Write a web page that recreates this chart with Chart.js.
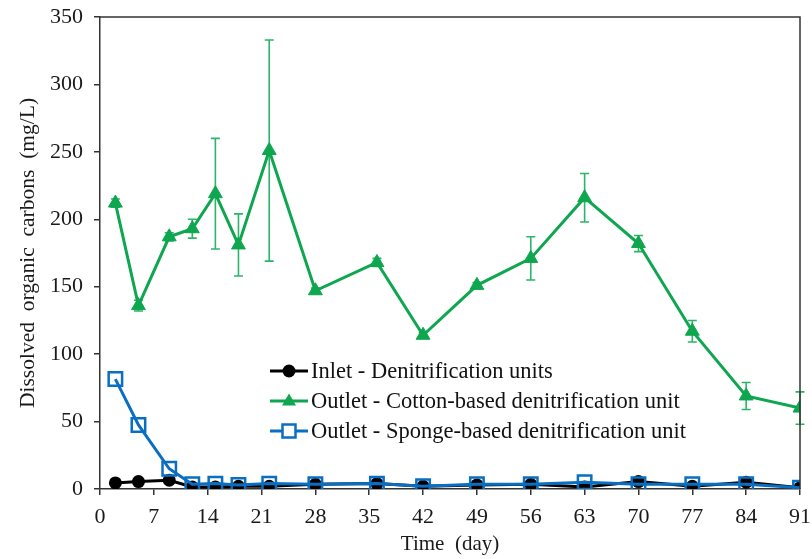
<!DOCTYPE html>
<html>
<head>
<meta charset="utf-8">
<title>Dissolved organic carbons</title>
<script src="https://cdn.jsdelivr.net/npm/chart.js@4.4.0/dist/chart.umd.min.js"></script>
<style>
  html, body { margin: 0; padding: 0; background: #fff; }
  #wrap { width: 812px; height: 559px; }
</style>
</head>
<body>
<div id="wrap"><canvas id="docChart" width="812" height="559"></canvas></div>
<script>
// Sampling days and DOC values (mg/L)
const days = [2, 5, 9, 12, 15, 18, 22, 28, 36, 42, 49, 56, 63, 70, 77, 84, 91];
const inletDoc = [4.5, 5.5, 6.5, 1.5, 1.5, 2, 2, 3.5, 4, 2, 3, 3.5, 1.5, 5.5, 2, 5, 1];
const cottonDoc = [212, 136, 187, 193, 219, 181, 251, 147, 168, 114, 151, 171, 216, 182, 117, 69, 60];
const cottonErr = [3, 4, 3, 7, 41, 23, 82, 2, 3, 2, 2, 16, 18, 6, 8, 10, 12];
const spongeDoc = [81.5, 47.5, 15, 3.5, 4, 3, 4, 3.5, 4, 2, 3.5, 3.5, 5, 3.5, 3.5, 3.5, 1];
const xTicks = [0, 7, 14, 21, 28, 35, 42, 49, 56, 63, 70, 77, 84, 91];
const yTicks = [0, 50, 100, 150, 200, 250, 300, 350];

const seriesNames = [
  'Inlet - Denitrification units',
  'Outlet - Cotton-based denitrification unit',
  'Outlet - Sponge-based denitrification unit'
];

const FONT = "'Liberation Serif', 'DejaVu Serif', serif";
const GREEN = '#0ea64e';
const GREEN_BAR = '#2bb56a';
const BLUE = '#0a6fc2';
const AXIS = '#333';

const toPoints = vals => days.map((d, i) => ({ x: d, y: vals[i] }));

// Error bars for the cotton unit
const errorBars = {
  id: 'errorBars',
  beforeDatasetsDraw(chart) {
    const { ctx, scales: { x, y } } = chart;
    ctx.save();
    ctx.strokeStyle = GREEN_BAR;
    ctx.lineWidth = 1.6;
    days.forEach((d, i) => {
      const px = x.getPixelForValue(d);
      const top = y.getPixelForValue(cottonDoc[i] + cottonErr[i]);
      const bot = y.getPixelForValue(cottonDoc[i] - cottonErr[i]);
      ctx.beginPath();
      ctx.moveTo(px, top); ctx.lineTo(px, bot);
      ctx.moveTo(px - 4.5, top); ctx.lineTo(px + 4.5, top);
      ctx.moveTo(px - 4.5, bot); ctx.lineTo(px + 4.5, bot);
      ctx.stroke();
    });
    ctx.restore();
  }
};

// Top and right frame lines
const frame = {
  id: 'frame',
  afterDraw(chart) {
    const { ctx, chartArea: a } = chart;
    ctx.save();
    ctx.strokeStyle = AXIS;
    ctx.lineWidth = 1.5;
    ctx.beginPath();
    ctx.moveTo(a.left, a.top); ctx.lineTo(a.right, a.top); ctx.lineTo(a.right, a.bottom);
    ctx.stroke();
    ctx.restore();
  }
};

// Legend inside the plot: line + marker + label
function drawMarker(ctx, style, x, y) {
  ctx.beginPath();
  if (style === 'circle') {
    ctx.fillStyle = '#000';
    ctx.arc(x, y, 6.5, 0, Math.PI * 2);
    ctx.fill();
  } else if (style === 'triangle') {
    ctx.fillStyle = GREEN;
    ctx.moveTo(x, y - 7.5); ctx.lineTo(x + 7, y + 4.5); ctx.lineTo(x - 7, y + 4.5);
    ctx.closePath();
    ctx.fill();
  } else {
    ctx.fillStyle = '#fff';
    ctx.strokeStyle = BLUE;
    ctx.lineWidth = 2.5;
    ctx.rect(x - 6.5, y - 6.5, 13, 13);
    ctx.fill();
    ctx.stroke();
  }
}

const insideLegend = {
  id: 'insideLegend',
  afterDraw(chart) {
    const { ctx } = chart;
    const rows = [
      { color: '#000', style: 'circle' },
      { color: GREEN, style: 'triangle' },
      { color: BLUE, style: 'rect' }
    ];
    ctx.save();
    rows.forEach((r, i) => {
      const y = 371 + i * 30;
      ctx.strokeStyle = r.color;
      ctx.lineWidth = 3;
      ctx.beginPath();
      ctx.moveTo(270, y); ctx.lineTo(308, y);
      ctx.stroke();
      drawMarker(ctx, r.style, 289, y);
      ctx.fillStyle = '#111';
      ctx.font = '22.5px ' + FONT;
      ctx.textBaseline = 'middle';
      ctx.textAlign = 'left';
      ctx.fillText(seriesNames[i], 311, y + 1);
    });
    ctx.restore();
  }
};

new Chart(document.getElementById('docChart'), {
  type: 'line',
  data: {
    datasets: [
      {
        label: seriesNames[0],
        data: toPoints(inletDoc),
        borderColor: '#000',
        backgroundColor: '#000',
        borderWidth: 3,
        pointStyle: 'circle',
        pointRadius: 6.5,
        pointBorderWidth: 0,
        tension: 0,
        order: 2
      },
      {
        label: seriesNames[1],
        data: toPoints(cottonDoc),
        borderColor: GREEN,
        backgroundColor: GREEN,
        borderWidth: 3,
        pointStyle: 'triangle',
        pointRadius: 8,
        pointBorderWidth: 1,
        tension: 0,
        order: 3
      },
      {
        label: seriesNames[2],
        data: toPoints(spongeDoc),
        borderColor: BLUE,
        backgroundColor: 'rgba(255,255,255,0)',
        borderWidth: 3,
        pointStyle: 'rect',
        pointRadius: 9.5,
        pointBorderWidth: 2.5,
        pointBorderColor: BLUE,
        tension: 0,
        order: 1
      }
    ]
  },
  options: {
    responsive: false,
    animation: false,
    devicePixelRatio: 1,
    layout: { padding: { left: 0, top: 17, right: 10, bottom: 2 } },
    plugins: {
      legend: { display: false },
      tooltip: { enabled: false }
    },
    scales: {
      x: {
        type: 'linear',
        min: 0,
        max: 91,
        afterBuildTicks: scale => { scale.ticks = xTicks.map(v => ({ value: v })); },
        afterFit: scale => {
          scale.height = 68;
          scale.paddingLeft = 0;
          scale.paddingRight = 0;
        },
        grid: { drawOnChartArea: false, drawTicks: true, tickLength: 6, color: AXIS, lineWidth: 1.5 },
        border: { display: true, color: AXIS, width: 1.5 },
        ticks: { color: '#1a1a1a', font: { family: FONT, size: 22 }, padding: 9, maxRotation: 0, autoSkip: false },
        title: {
          display: true,
          text: 'Time  (day)',
          color: '#1a1a1a',
          font: { family: FONT, size: 21 },
          padding: { top: 0, bottom: 0 }
        }
      },
      y: {
        min: 0,
        max: 350,
        afterBuildTicks: scale => { scale.ticks = yTicks.map(v => ({ value: v })); },
        afterFit: scale => {
          scale.width = 100;
          scale.paddingTop = 0;
          scale.paddingBottom = 0;
        },
        grid: { drawOnChartArea: false, drawTicks: true, tickLength: 6, color: AXIS, lineWidth: 1.5 },
        border: { display: true, color: AXIS, width: 1.5 },
        ticks: { color: '#1a1a1a', font: { family: FONT, size: 22 }, padding: 11 },
        title: {
          display: true,
          text: 'Dissolved  organic  carbons  (mg/L)',
          color: '#1a1a1a',
          font: { family: FONT, size: 21.5 },
          padding: { top: 15, bottom: 0 }
        }
      }
    }
  },
  plugins: [errorBars, frame, insideLegend]
});
</script>
</body>
</html>
